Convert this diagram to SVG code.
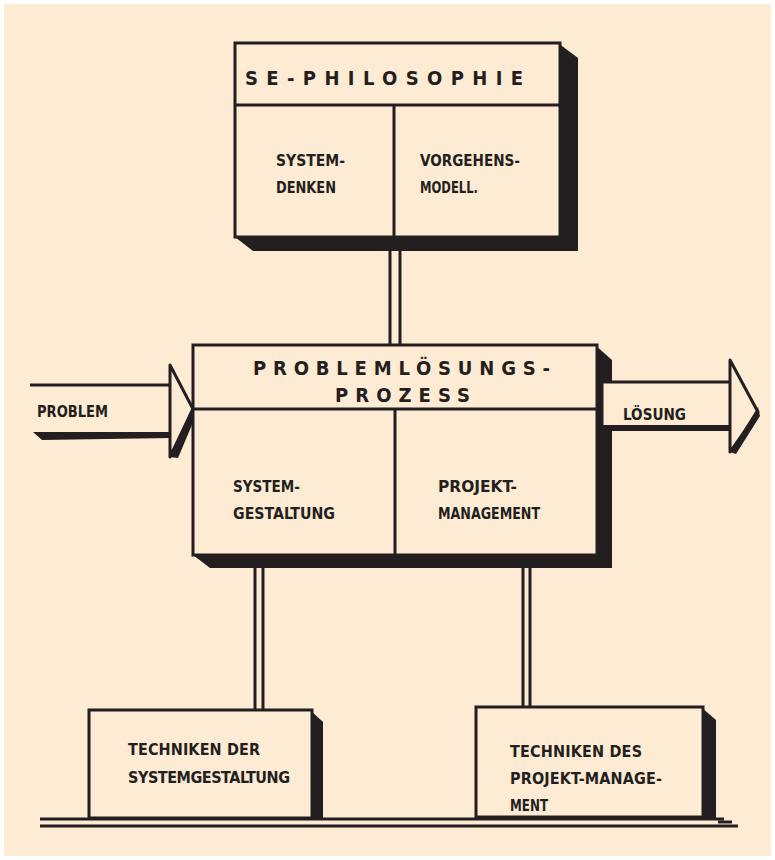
<svg xmlns="http://www.w3.org/2000/svg" width="775" height="860" viewBox="0 0 775 860">
<style>
.bg{fill:#fdebd3}
.sh{fill:#231f20}
.box{fill:#fdebd3;stroke:#231f20;stroke-width:3}
.ln{stroke:#231f20;stroke-width:3;fill:none}
.lt{font-family:"DejaVu Sans Condensed","DejaVu Sans",sans-serif;font-weight:bold;font-stretch:condensed;fill:#231f20;font-size:16px}
.hd{font-size:20px}
</style>
<rect x="0" y="0" width="775" height="860" fill="#ffffff"/>
<rect x="4" y="4" width="767" height="852" class="bg"/>

<g id="connectors">
  <line class="ln" x1="390" y1="250" x2="390" y2="346"/>
  <line class="ln" x1="400" y1="250" x2="400" y2="346"/>
  <line class="ln" x1="255" y1="567" x2="255" y2="711"/>
  <line class="ln" x1="263" y1="567" x2="263" y2="711"/>
  <line class="ln" x1="523" y1="567" x2="523" y2="708"/>
  <line class="ln" x1="530" y1="567" x2="530" y2="708"/>
</g>

<g id="se-philosophie">
  <polygon class="sh" points="558,43 578,58 578,251 253,251 235,237 558,237"/>
  <rect class="box" x="235" y="43" width="325" height="194"/>
  <line class="ln" x1="235" y1="105" x2="560" y2="105"/>
  <line class="ln" x1="394" y1="105" x2="394" y2="237"/>
  <text class="lt hd" x="245" y="85" textLength="278" lengthAdjust="spacing">SE-PHILOSOPHIE</text>
  <text class="lt" x="276" y="166" textLength="69" lengthAdjust="spacingAndGlyphs">SYSTEM-</text>
  <text class="lt" x="276" y="193" textLength="60" lengthAdjust="spacingAndGlyphs">DENKEN</text>
  <text class="lt" x="420" y="166" textLength="100" lengthAdjust="spacingAndGlyphs">VORGEHENS-</text>
  <text class="lt" x="420" y="193" textLength="58" lengthAdjust="spacingAndGlyphs">MODELL.</text>
</g>

<g id="problemloesungsprozess">
  <polygon class="sh" points="595,345 612,360 612,568 210,568 193,555 595,555"/>
  <rect class="box" x="193" y="345" width="404" height="210"/>
  <line class="ln" x1="193" y1="409" x2="597" y2="409"/>
  <line class="ln" x1="395" y1="409" x2="395" y2="555"/>
  <text class="lt hd" x="253" y="375" textLength="297" lengthAdjust="spacing">PROBLEMLÖSUNGS-</text>
  <text class="lt hd" x="335" y="402" textLength="135" lengthAdjust="spacing">PROZESS</text>
  <text class="lt" x="233" y="492" textLength="67" lengthAdjust="spacingAndGlyphs">SYSTEM-</text>
  <text class="lt" x="233" y="519" textLength="102" lengthAdjust="spacingAndGlyphs">GESTALTUNG</text>
  <text class="lt" x="438" y="492" textLength="79" lengthAdjust="spacingAndGlyphs">PROJEKT-</text>
  <text class="lt" x="438" y="519" textLength="102" lengthAdjust="spacingAndGlyphs">MANAGEMENT</text>
</g>

<g id="problem">
  <line class="ln" x1="30" y1="385" x2="171" y2="385" stroke-width="2.5"/>
  <polygon class="sh" points="33,432 171,432 171,438 42,440"/>
  <polygon class="box" points="170,365 193,409 170,457" stroke-linejoin="round"/>
  <polygon class="sh" points="193,405 194,420 178,458 170,457"/>
  <text class="lt" x="37" y="417" textLength="71" lengthAdjust="spacingAndGlyphs">PROBLEM</text>
</g>

<g id="loesung">
  <polygon class="box" points="602,382 731,382 731,428 602,428" stroke-width="2.5"/>
  <polygon class="sh" points="602,425 731,425 731,431 602,431"/>
  <polygon class="box" points="730,360 758,412 730,452" stroke-linejoin="round"/>
  <polygon class="sh" points="758,407 760,416 736,454 730,452"/>
  <text class="lt" x="623" y="420" textLength="63" lengthAdjust="spacingAndGlyphs">LÖSUNG</text>
</g>

<g id="techniken-systemgestaltung">
  <polygon class="sh" points="310,710 323,722 323,819 310,819"/>
  <rect class="box" x="89" y="710" width="223" height="108"/>
  <text class="lt" x="128" y="755" textLength="132" lengthAdjust="spacing">TECHNIKEN DER</text>
  <text class="lt" x="128" y="783" textLength="162" lengthAdjust="spacing">SYSTEMGESTALTUNG</text>
</g>

<g id="techniken-projektmanagement">
  <polygon class="sh" points="701,707 716,720 716,818 701,818"/>
  <rect class="box" x="476" y="707" width="227" height="110"/>
  <text class="lt" x="510" y="757" textLength="132" lengthAdjust="spacing">TECHNIKEN DES</text>
  <text class="lt" x="510" y="784" textLength="152" lengthAdjust="spacing">PROJEKT-MANAGE-</text>
  <text class="lt" x="510" y="811" textLength="38" lengthAdjust="spacingAndGlyphs">MENT</text>
</g>

<g id="ground">
  <line class="ln" x1="40" y1="819" x2="724" y2="819" stroke-width="3.5"/>
  <line class="ln" x1="40" y1="826" x2="738" y2="826" stroke-width="2"/>
  <line class="ln" x1="718" y1="822" x2="732" y2="822" stroke-width="1.5"/>
</g>
</svg>
